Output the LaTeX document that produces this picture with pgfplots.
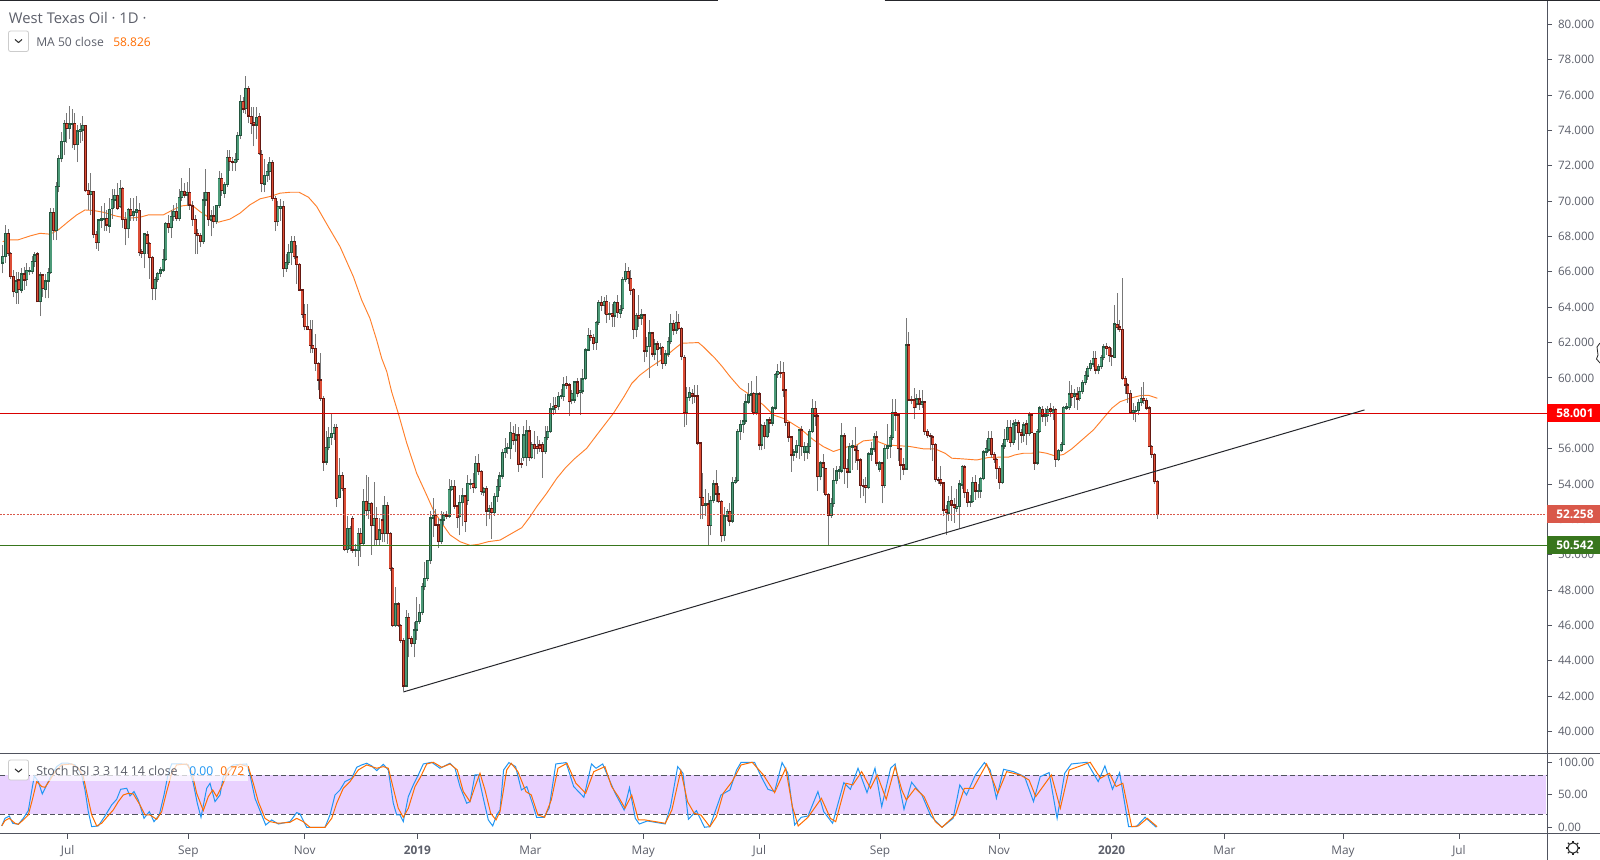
\documentclass[border=0pt]{standalone}
\usepackage{fontspec}
\setmainfont{Open Sans}
\usepackage{pgfplots}
\usepackage{pgfplotstable}
\pgfplotsset{compat=1.18}
\definecolor{upfill}{HTML}{4C9A78}
\definecolor{upedge}{HTML}{24563F}
\definecolor{dnfill}{HTML}{DC4E36}
\definecolor{dnedge}{HTML}{641812}
\definecolor{wick}{HTML}{787878}
\definecolor{rulec}{HTML}{50535E}
\definecolor{txtc}{HTML}{5D606B}
\definecolor{maorange}{HTML}{FF7F2A}
\definecolor{dorange}{HTML}{FF6D00}
\definecolor{kblue}{HTML}{2196F3}
\definecolor{stfill}{HTML}{E9D1FF}
\definecolor{greenl}{HTML}{38761D}
\definecolor{redtag}{HTML}{D9584A}
\definecolor{darkl}{HTML}{25262B}
\pgfplotstableread{
o h l c
66.49 67.52 65.92 66.87
66.87 68.65 66.50 68.18
68.18 68.40 66.90 67.05
67.05 67.10 65.60 65.73
65.73 66.10 64.55 64.88
64.83 66.00 64.20 65.48
65.54 66.00 64.20 65.01
64.98 66.20 64.80 65.88
65.88 66.30 65.00 65.54
65.58 66.50 65.20 66.07
66.01 66.30 65.80 66.07
66.01 66.90 65.90 66.58
66.58 67.10 66.30 66.96
67.00 67.10 64.30 64.32
64.32 66.00 63.50 65.82
65.82 65.90 64.60 65.07
65.01 65.90 64.50 65.48
65.48 66.20 64.50 65.97
65.97 69.60 65.90 69.37
69.37 69.60 67.80 68.33
68.33 71.10 67.80 70.82
70.82 72.60 70.50 72.40
72.40 73.90 72.20 73.36
73.36 74.60 72.60 74.40
74.40 75.00 73.30 74.12
74.12 75.38 73.50 74.36
74.36 75.20 73.00 74.40
74.40 75.00 72.90 73.20
73.20 74.30 72.20 73.97
73.97 74.40 73.30 74.06
74.02 74.80 73.40 74.27
74.27 74.30 70.50 70.59
70.59 71.00 69.50 70.39
70.39 71.60 69.20 70.54
70.54 70.60 67.90 68.12
68.12 68.30 67.30 67.67
67.67 69.00 67.20 68.93
68.93 69.70 68.50 68.99
69.00 69.90 68.30 69.03
69.03 69.50 68.30 68.65
68.60 70.20 68.20 69.54
69.59 70.70 69.00 70.10
70.07 70.70 69.60 70.33
70.33 71.00 69.50 69.59
69.69 71.20 69.60 70.73
70.73 70.80 68.50 68.97
68.97 69.40 67.50 68.44
68.44 69.60 67.90 69.54
69.54 70.20 68.90 69.20
69.20 70.20 68.90 69.39
69.39 70.30 68.90 69.50
69.46 69.90 66.90 67.10
67.14 67.30 66.80 67.05
67.05 68.20 66.20 68.14
68.09 68.30 67.00 67.61
67.61 67.70 65.60 66.80
66.80 66.90 64.40 65.07
65.07 65.70 64.40 65.58
65.58 66.00 65.40 65.92
65.92 66.30 65.70 66.11
66.11 67.30 66.00 66.71
66.71 68.80 66.60 68.75
68.75 69.20 68.20 68.50
68.50 69.50 67.90 69.12
69.12 69.80 68.90 69.41
69.41 69.90 68.90 69.03
69.03 70.70 68.90 70.22
70.22 71.30 70.00 70.54
70.54 71.00 70.20 70.35
70.35 71.10 69.70 70.50
70.50 71.90 69.50 69.78
69.72 70.00 68.60 68.97
68.97 69.20 67.00 68.18
68.18 68.40 67.00 68.05
68.05 68.20 67.40 67.71
67.71 70.50 67.60 70.07
70.07 71.80 69.70 70.48
70.48 70.50 68.60 68.97
68.93 69.50 68.00 69.16
69.16 69.70 68.50 68.84
68.84 69.80 68.70 69.76
69.76 71.70 69.60 71.29
71.29 71.60 70.30 70.59
70.44 71.10 70.20 70.95
70.95 72.90 70.80 72.48
72.48 72.90 71.70 72.23
72.25 72.50 71.70 72.18
72.18 72.70 71.70 72.36
72.36 73.90 72.20 73.70
73.70 76.00 73.50 75.63
75.63 75.90 75.00 75.20
75.25 77.10 74.90 76.38
76.38 76.50 74.40 74.82
74.78 75.30 73.80 74.40
74.44 75.30 73.10 74.30
74.30 75.30 73.50 74.74
74.78 75.00 72.60 72.70
72.65 72.90 70.50 71.00
70.97 72.40 70.50 71.44
71.44 72.10 71.10 71.67
71.67 72.50 71.20 72.20
72.20 72.30 70.00 70.16
70.16 70.30 68.30 68.84
68.84 70.00 68.60 69.69
69.60 70.10 68.90 69.69
69.69 70.00 65.70 66.20
66.20 67.00 66.00 66.54
66.54 67.60 66.40 67.11
67.11 68.00 66.40 67.71
67.71 68.00 66.70 66.86
66.83 67.50 65.30 66.43
66.43 66.50 64.90 64.98
64.98 65.00 63.40 63.60
63.60 64.20 62.70 62.90
62.90 64.20 62.70 62.75
62.75 63.30 61.40 61.85
61.85 63.30 61.40 61.68
61.68 62.50 60.40 60.83
60.83 60.90 59.30 59.89
59.89 61.40 58.70 58.85
58.85 59.00 54.75 55.24
55.24 57.00 55.10 56.07
56.07 57.20 55.90 56.64
56.64 58.00 56.20 56.86
56.86 57.40 56.50 57.20
57.20 57.40 52.70 53.19
53.25 55.50 53.20 54.49
54.49 54.70 53.60 53.75
53.75 53.80 50.20 50.30
50.30 52.20 50.10 51.49
50.35 51.60 50.20 51.49
52.06 52.20 50.10 50.27
50.27 50.60 49.90 50.30
50.23 51.50 49.35 51.21
51.21 51.50 49.90 50.65
50.65 53.70 50.50 53.02
53.02 54.50 52.20 52.49
52.49 54.40 52.00 52.90
52.90 53.00 50.00 51.66
51.66 54.10 50.50 52.06
52.06 52.70 50.50 50.87
50.87 52.10 50.50 51.40
51.96 52.80 50.70 51.20
51.20 53.30 50.70 52.79
52.79 53.00 50.60 51.21
51.21 51.30 49.10 49.23
49.23 49.30 45.90 46.00
46.00 48.20 45.90 47.21
47.21 47.30 45.90 46.00
46.00 46.10 45.00 45.14
45.14 45.30 42.30 42.58
42.58 46.90 42.50 46.46
46.46 46.70 44.20 45.25
45.25 45.40 44.80 44.99
44.99 46.20 44.20 45.74
45.74 47.60 45.20 46.23
46.23 47.20 46.10 46.74
46.74 48.40 46.60 48.19
48.19 49.60 48.00 48.67
48.67 49.70 48.50 49.66
49.66 52.50 49.50 52.08
52.08 53.20 51.00 52.21
52.21 52.60 51.60 51.68
51.68 52.10 50.40 50.74
50.74 52.50 50.60 51.96
51.96 52.40 51.70 52.25
52.25 52.50 52.00 52.19
52.19 54.30 52.10 53.70
53.70 54.20 53.60 53.85
53.85 54.20 52.60 52.76
52.76 52.80 51.50 52.11
52.15 53.40 51.10 52.94
52.94 53.80 51.60 53.32
53.32 53.40 51.30 51.89
53.06 54.50 52.80 54.04
54.00 54.30 53.70 54.04
54.04 54.60 53.50 53.81
53.81 55.60 53.70 55.17
55.17 55.70 54.50 54.70
54.70 54.80 53.40 53.58
53.56 53.85 53.30 53.75
53.75 53.90 51.60 52.47
52.47 52.80 52.00 52.62
52.62 53.00 50.90 52.40
52.40 53.50 52.20 53.28
53.28 54.30 53.00 53.85
53.85 54.70 53.60 54.45
54.45 56.00 54.30 55.79
55.79 56.60 55.50 56.02
56.02 56.30 55.70 56.05
56.02 57.50 55.40 56.92
56.86 57.30 56.20 56.45
56.49 57.40 55.80 56.77
56.77 57.20 54.70 55.11
55.15 55.50 54.90 55.11
55.50 57.30 55.30 56.77
55.50 57.60 55.00 57.00
57.00 57.30 55.30 55.50
55.50 56.40 55.40 56.24
56.24 57.00 55.40 56.02
56.11 56.70 55.70 56.02
56.20 56.50 55.80 56.02
56.24 56.40 54.35 55.83
55.83 57.30 55.70 56.64
56.64 57.30 56.50 56.96
56.96 58.60 56.90 58.24
58.24 58.90 57.90 58.37
58.45 58.90 58.00 58.33
58.38 59.20 58.20 58.95
58.95 59.40 58.80 59.00
58.95 60.07 58.70 59.60
59.68 60.10 59.40 59.59
59.59 59.70 57.87 58.66
58.76 59.30 58.50 59.13
58.76 59.85 58.60 59.76
59.76 60.00 58.90 59.13
59.19 60.00 57.90 59.29
59.25 60.50 59.10 59.93
59.96 61.70 59.90 61.59
61.59 62.80 61.50 62.40
62.40 62.70 62.10 62.28
62.28 62.50 61.60 61.96
62.00 63.20 61.60 63.13
63.13 64.40 63.00 64.28
64.28 64.65 63.80 64.11
64.11 64.60 63.60 64.32
64.32 64.70 63.10 63.60
63.60 64.30 63.30 63.66
63.66 64.20 62.90 63.51
63.51 64.35 62.90 64.28
64.28 64.70 63.40 63.70
63.66 64.10 63.40 63.88
63.92 65.70 63.80 65.58
65.58 66.50 65.40 66.01
66.01 66.30 65.30 65.64
65.64 66.10 64.70 64.96
65.00 65.10 62.20 62.75
62.75 63.70 62.30 63.53
63.53 64.70 62.90 63.38
63.38 63.90 63.00 63.55
63.55 63.60 60.90 61.53
61.53 62.30 61.20 61.77
61.77 63.30 60.00 62.53
62.53 62.60 61.20 61.36
61.36 62.20 61.00 61.92
61.92 62.10 60.70 61.60
61.70 62.00 61.30 61.72
61.72 61.80 60.50 60.83
60.83 61.60 60.70 61.36
61.36 62.30 61.20 62.06
62.06 63.60 61.90 63.09
63.09 63.30 62.40 62.72
62.72 63.80 62.50 63.15
63.15 63.60 62.70 62.81
62.81 62.90 61.00 61.21
61.17 61.30 57.25 58.04
58.04 59.50 57.35 58.91
58.91 59.50 58.70 59.17
59.13 59.40 58.50 58.98
59.00 59.60 58.60 58.98
58.98 59.60 56.20 56.31
56.31 56.40 52.00 53.25
53.25 54.60 52.00 52.80
52.80 53.70 52.20 52.86
52.86 53.50 50.50 51.67
51.67 53.30 51.10 53.06
53.06 54.20 52.90 53.99
53.99 54.80 53.00 53.44
53.44 53.90 52.90 53.01
53.01 53.10 50.70 51.08
51.08 52.70 50.75 52.20
52.20 52.60 51.90 52.44
52.44 52.90 51.60 51.91
51.91 54.40 51.80 54.10
54.10 54.40 54.00 54.20
54.20 57.10 54.10 56.97
56.97 57.60 56.50 57.38
57.38 58.60 56.90 57.57
57.57 59.10 57.40 58.63
58.63 59.70 58.50 59.04
59.04 59.80 58.10 59.12
59.12 59.20 57.90 58.04
58.04 60.10 57.90 59.10
59.10 59.20 55.90 56.20
56.20 57.40 55.90 57.30
57.30 57.50 56.00 56.68
56.68 57.70 56.60 57.63
57.63 57.80 56.90 57.44
57.44 58.40 57.30 58.29
58.29 60.30 58.20 60.21
60.21 60.80 60.00 60.36
60.32 60.95 60.00 60.25
60.32 60.90 58.90 59.32
59.32 59.40 57.30 57.48
57.48 57.50 56.40 56.65
56.65 56.70 54.70 55.65
55.65 56.00 55.30 55.80
55.80 56.50 55.50 56.17
56.17 57.10 55.40 57.06
57.06 57.30 55.60 56.12
55.80 56.40 55.30 56.12
55.80 56.30 55.40 56.12
56.12 57.10 55.70 56.97
56.97 58.80 56.90 58.27
58.27 58.70 57.30 57.85
57.85 58.00 53.60 54.42
54.42 55.30 54.20 55.18
55.18 55.70 53.50 54.93
54.89 54.90 53.30 53.42
53.42 53.50 50.55 52.25
52.25 53.20 52.10 52.90
52.90 54.90 52.70 54.20
54.20 55.00 54.00 54.74
54.74 55.00 54.30 54.80
54.74 57.45 54.60 56.72
56.72 56.90 54.00 54.89
54.89 55.40 53.80 54.67
54.67 56.30 54.60 56.12
56.10 56.50 54.80 56.15
56.12 57.20 55.20 55.93
55.90 56.20 54.80 55.36
55.36 55.50 53.20 53.93
53.93 54.30 53.30 53.90
53.93 54.40 52.90 53.82
53.82 55.80 53.70 55.70
55.70 56.40 55.30 55.97
55.97 56.90 55.80 56.65
56.65 57.00 55.00 55.18
54.84 55.30 54.70 55.18
55.18 55.20 52.90 53.93
53.93 56.20 53.80 56.00
56.00 57.40 55.40 56.16
56.16 56.80 55.50 56.63
56.63 58.80 56.50 58.04
58.04 58.80 57.00 57.91
57.91 58.00 55.30 56.00
55.97 56.00 54.20 55.08
55.08 55.50 54.50 54.84
54.84 63.38 54.80 61.87
61.87 62.60 58.70 58.76
58.76 59.00 58.50 58.72
58.76 59.42 57.70 58.32
58.53 59.10 58.30 58.80
58.80 59.30 58.20 58.53
58.53 59.30 58.30 58.63
58.63 58.70 56.80 56.97
56.97 57.10 56.60 56.74
56.74 56.90 55.90 56.68
56.65 56.80 55.30 56.25
56.25 56.30 54.10 54.27
54.27 54.40 54.00 54.20
54.27 55.00 53.90 54.05
54.05 54.10 52.20 52.54
52.57 52.80 51.12 52.39
52.35 53.30 51.90 53.01
53.06 53.90 51.90 52.82
52.82 53.20 51.80 52.69
52.63 53.70 52.40 52.73
52.73 54.20 51.50 53.99
53.95 55.05 53.70 54.99
54.97 55.10 53.20 53.52
53.52 53.70 52.70 52.97
52.97 53.40 52.70 53.01
53.01 54.40 52.90 54.10
54.10 54.50 53.10 53.61
53.61 54.00 53.20 53.65
53.61 54.40 53.20 54.31
54.31 55.90 54.20 55.80
55.80 56.50 55.60 56.02
55.93 57.00 55.80 56.59
56.59 57.00 55.50 55.68
55.68 55.80 55.20 55.40
55.40 55.50 54.30 54.89
54.89 55.00 53.70 54.10
54.10 56.30 54.00 56.16
56.16 57.10 56.00 56.53
56.53 57.60 56.40 57.21
57.21 57.60 56.10 56.36
56.36 57.60 56.20 57.40
57.34 57.70 56.50 57.44
57.44 57.60 55.90 56.91
56.91 57.10 56.30 56.78
56.78 57.50 56.40 57.34
57.40 57.60 56.20 56.87
56.87 58.10 56.70 57.91
57.91 58.00 57.00 56.90
56.87 56.90 54.80 55.18
55.18 57.10 55.10 56.97
56.97 58.40 56.90 58.29
58.23 58.40 57.50 57.85
57.85 58.30 57.30 57.91
57.87 58.40 57.50 58.23
58.25 58.60 57.80 58.10
58.00 58.40 57.60 58.19
58.23 58.30 54.99 55.40
55.40 56.00 55.30 55.89
55.89 56.40 55.80 56.25
56.25 58.40 56.20 58.34
58.30 58.60 58.20 58.35
58.34 59.83 58.20 59.10
59.13 59.60 58.40 58.91
58.95 59.40 58.30 59.08
59.08 59.50 58.20 58.81
58.85 59.50 58.70 59.23
59.23 59.90 59.10 59.74
59.74 60.40 59.60 60.13
60.11 60.70 59.90 60.53
60.53 61.00 60.40 60.83
60.79 61.50 60.60 61.11
61.11 61.50 60.20 60.45
60.45 60.80 60.20 60.64
60.64 61.30 60.50 61.17
61.17 61.90 61.00 61.74
61.77 62.00 61.30 61.68
61.72 61.80 60.90 61.26
61.26 61.70 60.70 61.21
61.17 64.13 61.10 63.04
63.02 64.79 62.70 62.85
62.87 63.30 62.60 62.75
62.75 65.64 59.90 59.98
59.98 60.10 59.10 59.60
59.60 59.70 58.60 59.13
59.13 59.30 58.00 58.04
58.04 58.60 57.60 58.15
58.10 58.40 57.50 58.15
58.15 58.80 57.90 58.61
58.61 59.50 58.40 58.85
58.85 59.79 58.50 58.76
58.72 58.85 58.20 58.29
58.29 58.40 56.10 56.12
56.12 56.20 55.50 55.68
55.68 55.75 54.00 54.14
54.14 54.20 52.05 52.26
}\candles
\pgfplotstableread{
x y
0 67.71
2.1 67.81
5.8 67.81
10.2 68.03
14 68.18
17.7 68.13
20.8 68.37
24.6 68.85
27.7 69.22
30.8 69.50
33.9 69.47
37.7 69.37
42 69.17
46.4 69.03
51.4 69.09
54.5 69.22
60.1 69.22
63.2 69.47
67 69.73
70.7 69.79
73.8 69.41
77.6 69.03
80.7 68.81
85 68.98
88.8 69.32
92.5 69.79
96.3 70.13
100 70.26
103.8 70.45
107.5 70.50
110.9 70.50
114.4 70.22
117.5 69.69
121.8 68.56
126.2 67.43
131.2 65.73
134.3 64.41
137.4 63.37
139.9 62.15
141.8 61.11
143.7 60.36
145.5 59.23
148 58.00
151.2 56.30
154.9 54.60
158.6 53.38
161.1 52.53
164.3 51.78
167.4 51.12
171.1 50.74
174.9 50.53
178 50.59
181.7 50.74
186.1 50.83
189.8 51.15
194.2 51.53
197.3 52.15
199.8 52.72
203.5 53.47
207.3 54.32
210.4 54.89
214.1 55.45
218.5 56.02
222.3 56.78
228.5 58.00
232.5 58.95
235.4 59.70
238.5 60.17
242.2 60.59
247.2 61.10
250.9 61.59
254 61.96
260.3 62.00
262.1 61.77
266.5 61.11
269 60.68
272.1 60.08
275.9 59.42
279.6 59.04
284.6 58.47
288.3 57.91
292.7 57.68
298.3 57.15
303.3 56.50
307 56.12
310.8 55.84
316.4 56.12
319.5 56.20
322 56.44
325.8 56.50
330.8 56.20
335.1 56.17
339.5 56.12
344.5 55.99
348.8 55.99
352.6 55.74
355.1 55.46
359.4 55.42
364.4 55.36
368.8 55.50
373.2 55.52
376.3 55.52
378.8 55.65
381.9 55.74
385 55.74
387.5 55.82
390.6 55.74
393.7 55.59
396.9 55.67
400 55.99
403.1 56.40
408.1 57.06
411.8 57.72
415 58.29
418.1 58.66
421.8 58.85
425.6 59.00
428.7 59.02
432 58.85
}\maline
\pgfplotstableread{
x y
1.7 2.1
5 13.8
9.3 17.4
12.7 6.2
18.3 4.6
23.3 13.8
28.3 25.6
30.7 47.2
34.3 79
38.3 70.3
42.3 51.3
46.7 65.1
51.7 80.5
56.7 93.3
61.7 98.5
68.3 98.5
75 95.9
81.7 80.5
85 57.4
88.3 24.1
91.7 1
98.3 2.1
105 17.4
111.7 34.4
116.7 43.1
120.7 58.5
126.7 60
130 48.2
134 55
138.3 42
144 13.8
149.3 24.1
154 8.7
159.3 19
164 49.7
168.3 83.1
171.7 97.4
181.7 97.4
188.3 95.9
193.3 67.7
197.3 37
201 15.4
206.7 60
210 67.7
215 39.5
220 49.7
223.3 78
228.3 90.8
233.3 95.9
246.7 97.4
250 80.5
255 44.6
261.7 19
265.7 3.6
271.7 11.3
278.3 5.1
290 8.7
296.7 22.6
300 20.5
306.7 0
325 0
330 19
335 49.7
340 57.4
345 70.3
351.7 75.4
356.7 92.3
361.7 95.9
366.7 98.5
371.7 94.4
376.7 87.2
383.3 96.9
388.3 88.2
393.3 37
396.7 19
400 19
403.3 8.7
408.3 47.2
413.3 65.1
418.3 80.5
423.3 97.4
431.7 100
440 90.8
450 98.5
455 90.8
460 62.6
466.7 37
470 39.5
475 80.5
478.3 80.5
483.3 44.6
488.3 11.3
492.7 2.1
496.7 19
500 26.7
503.6 88.2
508.9 99.5
515.6 93.3
521.4 57.4
526.8 62.6
533.5 31.8
536.6 15.4
543.8 15.4
549.1 29.2
555.8 97.4
566.1 99.5
573.7 62.6
583.9 46.2
591.5 97.4
596 90.8
602.7 97.4
609.4 72.8
615.2 52.3
624.1 26.7
629.5 61
635.3 13.8
639.3 5.1
647.3 9.7
665.2 5.1
670.5 31.8
677.7 93.3
683 83.1
688.4 12.3
696.4 25.6
704.5 0
709.8 1
721 49.7
729.9 57.4
736.6 88.2
741.1 100
754.5 100
761.2 77.9
767.9 58.5
774.6 54.9
782.1 99.5
787.9 83.1
794.6 3.6
801.3 15.4
808 17.4
817.9 54.9
823.7 24.1
832.6 6.2
843.8 68.7
850.4 58.5
858 90.8
867 53.3
875 90.8
881.7 31.8
890.6 90.8
895.1 97.4
904 27.7
911.6 69.2
921.9 49.7
930.8 17.4
942 0
953.1 13.8
959.8 65.1
966.5 49.7
975.4 80.5
984.4 99.5
990.2 88.2
996.4 44.6
1003.6 89.2
1013.4 85.6
1024.6 77.9
1033.5 39.5
1040.2 77.9
1049.1 84.1
1057.1 13.8
1064.7 83.1
1071.4 97.4
1087 100
1098.2 70.3
1104.9 94.4
1112.5 58.5
1119.6 84.1
1128.6 1
1136.2 1
1145.1 15.4
1156.3 0
}\stochk
\pgfplotstableread{
x y
1.7 2.1
5 10.3
9.3 13.8
15 6.2
18.3 4.6
23.3 11.3
28.3 19
32.3 42
36.7 70.3
41.7 62.6
45 61.5
50 72.8
55 85.6
61.7 95.9
71.7 97.4
78.3 90.8
83.3 77.9
87.3 49.7
91.7 19
96.7 2.1
101.7 6.2
106.7 15.4
113.3 26.7
118.3 39.5
123.3 49.7
128.3 52.3
133.3 51.3
140 34.4
145 19
150 19
156.7 12.3
161.7 24.1
166.7 54.9
171.7 83.1
176.7 95.9
186.7 97.4
191.7 85.6
196.7 52.3
203.3 25.6
208.3 47.2
212.7 57.4
216.7 47.2
221.7 62.6
226.7 80.5
231.7 90.8
240 96.9
248.3 93.3
253.3 67.7
258.3 39.5
265 13.8
270 8.7
278.3 6.2
290 7.7
296.7 13.8
303.3 8.7
310 0
325 0
331.7 13.8
336.7 37
343.3 60
350 70.3
358.3 88.2
366.7 95.9
376.7 90.8
383.3 93.3
388.3 90.8
393.3 60
398.3 29.2
403.3 15.4
408.3 29.2
415 62.6
420.7 77.9
426.7 97.4
433.3 100
441.7 92.3
450 97.4
457.3 88.2
463.3 54.9
470 39.5
475 62.6
480 83.1
485 57.4
490.7 21.5
496 11.3
500 24.1
506.7 88.2
511.2 98.5
517.9 85.6
525.9 54.9
531.3 49.7
537.9 19
544.6 15.4
551.3 42.1
558 90.8
567 98.5
575.9 67.7
585.7 52.3
593.8 85.6
604.9 93.3
611.6 62.6
618.3 47.2
625 29.2
631.7 49.7
638.4 11.3
645.1 11.3
665.2 6.2
671.9 26.7
680.8 87.2
687.5 39.5
694.2 21.5
700.9 19
709.8 1
716.5 16.4
723.2 52.3
732.1 70.3
741.1 95.9
752.2 100
763.4 80.5
774.6 53.3
785.7 90.8
792.4 31.8
798.2 2.1
808 15.4
821.4 44.6
830.4 13.8
835.7 8.7
846 67.7
852.7 65.1
861.6 85.6
870.5 60
877.2 80.5
886.2 43.1
895.1 93.3
901.8 57.4
906.3 42.1
915.2 60
924.1 47.2
935.3 8.7
942 0
955.4 19
964.3 60
973.2 60
986.6 97.4
997.8 52.3
1006.7 85.6
1020.1 80.5
1029 72.8
1035.7 47.2
1051.3 80.5
1060.3 29.2
1069.2 88.2
1080.4 94.4
1090.2 100
1100.4 75.4
1109.4 83.1
1116.1 62.6
1122.8 67.7
1131.7 1
1138.4 2.1
1147.3 13.8
1157.1 1
}\stochd
\begin{document}
\begin{tikzpicture}
\path[use as bounding box] (0,0) rectangle (1200pt,645pt);
\fill[white] (0,0) rectangle (1200pt,645pt);
% ---- main panel
\begin{axis}[
  at={(0pt,79.875pt)}, anchor=south west, scale only axis,
  width=1160.25pt, height=564.4pt,
  xmin=-1.01, xmax=577.8, ymin=38.76, ymax=81.32,
  axis y line*=right, axis x line=none,
  axis line style={rulec,line width=.75pt},
  ytick={40,42,...,80}, tick style={rulec,line width=.75pt},
  tick align=outside, major tick length=3.75pt,
  yticklabel style={font=\fontsize{8.7}{10}\selectfont,text=txtc,xshift=1pt,
    /pgf/number format/.cd,fixed,fixed zerofill,precision=3,assume math mode=true},
  clip=true,
]
\addplot[maorange,line width=.7pt,forget plot] table[x=x,y=y]{\maline};
\addplot[draw=none,mark=none,forget plot,
  error bars/.cd,y dir=plus,y explicit,error mark=none,
  error bar style={wick,line width=.75pt}]
  table[x expr=\coordindex,y=l,y error plus expr=\thisrow{h}-\thisrow{l}]{\candles};
\addplot[draw=none,mark=none,forget plot,
  restrict expr to domain={\thisrow{c}-\thisrow{o}}{0:100},
  error bars/.cd,y dir=plus,y explicit,error mark=none,
  error bar style={upedge,line width=2.25pt}]
  table[x expr=\coordindex,y expr=\thisrow{o}-0.04,y error plus expr=\thisrow{c}-\thisrow{o}+0.08]{\candles};
\addplot[draw=none,mark=none,forget plot,
  restrict expr to domain={\thisrow{o}-\thisrow{c}}{0.000001:100},
  error bars/.cd,y dir=plus,y explicit,error mark=none,
  error bar style={dnedge,line width=2.25pt}]
  table[x expr=\coordindex,y expr=\thisrow{c}-0.04,y error plus expr=\thisrow{o}-\thisrow{c}+0.08]{\candles};
\addplot[draw=none,mark=none,forget plot,
  restrict expr to domain={\thisrow{c}-\thisrow{o}}{0.09:100},
  error bars/.cd,y dir=plus,y explicit,error mark=none,
  error bar style={upfill,line width=1.25pt}]
  table[x expr=\coordindex,y expr=\thisrow{o}+0.04,y error plus expr=\thisrow{c}-\thisrow{o}-0.08]{\candles};
\addplot[draw=none,mark=none,forget plot,
  restrict expr to domain={\thisrow{o}-\thisrow{c}}{0.09:100},
  error bars/.cd,y dir=plus,y explicit,error mark=none,
  error bar style={dnfill,line width=1.25pt}]
  table[x expr=\coordindex,y expr=\thisrow{c}+0.04,y error plus expr=\thisrow{o}-\thisrow{c}-0.08]{\candles};
\addplot[red!85!black,line width=.75pt,forget plot] coordinates {(-1.01,58.001)(577.8,58.001)};
\addplot[redtag,line width=.75pt,dash pattern=on 1.5pt off 1pt,forget plot] coordinates {(-1.01,52.258)(577.8,52.258)};
\addplot[greenl,line width=.75pt,forget plot] coordinates {(-1.01,50.542)(577.8,50.542)};
\addplot[darkl,line width=.75pt,forget plot] coordinates {(149.9,42.24)(509.5,58.19)};
\end{axis}
% ---- stochastic panel
\begin{axis}[
  at={(0pt,19.5pt)}, anchor=south west, scale only axis,
  width=1160.25pt, height=60.375pt,
  xmin=0, xmax=1547, ymin=-10.3, ymax=113.5,
  axis y line*=right, axis x line*=bottom,
  axis line style={rulec,line width=.75pt},
  ytick={0,50,100}, tick style={rulec,line width=.75pt},
  tick align=outside, major tick length=3.75pt,
  xtick={67.7,188.3,304.7,417.3,530.4,643.3,759.4,880,999,1111.6,1224.5,1343,1459},
  xticklabels={Jul,Sep,Nov,\textbf{2019},Mar,May,Jul,Sep,Nov,\textbf{2020},Mar,May,Jul},
  xticklabel style={font=\fontsize{8.9}{10}\selectfont,text=txtc,yshift=-1.4pt},
  yticklabel style={font=\fontsize{8.7}{10}\selectfont,text=txtc,xshift=1pt,
    /pgf/number format/.cd,fixed,fixed zerofill,precision=2,assume math mode=true},
]
\fill[stfill] (axis cs:0,20) rectangle (axis cs:1546,80);
\addplot[rulec,line width=.75pt,dash pattern=on 4pt off 2.2pt,forget plot] coordinates {(0,80)(1546,80)};
\addplot[rulec,line width=.75pt,dash pattern=on 4pt off 2.2pt,forget plot] coordinates {(0,20)(1546,20)};
\addplot[kblue,line width=.75pt,forget plot] table[x=x,y=y]{\stochk};
\addplot[dorange,line width=.75pt,forget plot] table[x=x,y=y]{\stochd};
\end{axis}
% ---- chrome drawn in pixel units
\begin{scope}[x=.75pt,y=-.75pt,yshift=645pt]
\draw[rulec,line width=.75pt] (1547,0) -- (1547,860);
\draw[rulec,line width=.75pt] (0,753.5) -- (1600,753.5);
\draw[rulec,line width=.75pt] (0,834) -- (1600,834);
\draw[darkl,line width=.9pt] (0,.5) -- (718.4,.5);
\draw[darkl,line width=.9pt] (884.7,.5) -- (1600,.5);
% price tags
\fill[red] (1547,404) rectangle (1600,421.7);
\fill[redtag] (1547,505) rectangle (1600,523);
\fill[greenl] (1547,536) rectangle (1600,553.7);
\foreach \yy/\tt in {413/58.001,514/52.258,545/50.542}
  \node[text=white,font=\fontsize{8.9}{10}\selectfont\bfseries,inner sep=0pt,anchor=west] at (1556,\yy) {\tt};
% legends
\node[text=txtc,font=\fontsize{11.1}{12}\selectfont,anchor=west,inner sep=0pt] at (8.7,18) {West Texas Oil · 1D ·};
\draw[black!20,rounded corners=1.5pt,fill=white,line width=.6pt] (8.5,31) rectangle (28.5,51.5);
\draw[black!80,line width=.8pt] (15,39.5) -- (18.5,42.5) -- (22,39.5);
\node[text=txtc,font=\fontsize{9.1}{10}\selectfont,anchor=west,inner sep=0pt] at (36,42) {MA 50 close};
\node[text=dorange,font=\fontsize{9}{10}\selectfont,anchor=west,inner sep=0pt] at (113,42) {58.826};
\fill[white,opacity=.72] (30,761) rectangle (248,781);
\draw[black!20,rounded corners=1.5pt,fill=white,line width=.6pt] (8.5,760) rectangle (28.5,780);
\draw[black!80,line width=.8pt] (15,769) -- (18.5,772) -- (22,769);
\node[text=txtc,font=\fontsize{9.3}{10}\selectfont,anchor=west,inner sep=0pt] at (36,771) {Stoch RSI 3 3 14 14 close};
\node[text=kblue,font=\fontsize{9.1}{10}\selectfont,anchor=west,inner sep=0pt] at (189,771) {0.00};
\node[text=dorange,font=\fontsize{9.1}{10}\selectfont,anchor=west,inner sep=0pt] at (220,771) {0.72};
% settings icon
\draw[black!85,line width=.8pt] (1573,848) circle[radius=5.2];
\foreach \aa in {0,45,...,315}
  \draw[black!85,line width=.8pt] (1573,848) ++(\aa:5.2) -- ++(\aa:2.2);
% cursor fragment at the right edge
\draw[black!85,fill=white,line width=.6pt] (1600,343) -- (1597,347) -- (1598,355) -- (1596.5,359) -- (1600,363);
\end{scope}
\end{tikzpicture}
\end{document}
